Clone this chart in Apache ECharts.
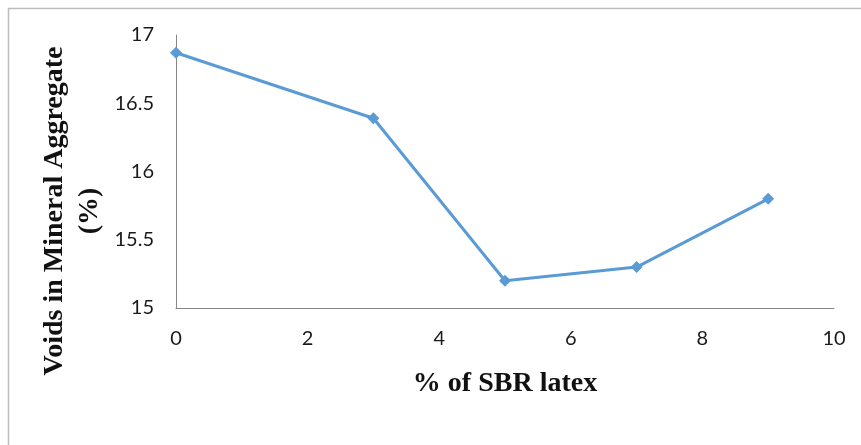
<!DOCTYPE html>
<html>
<head>
<meta charset="utf-8">
<script src="https://cdn.jsdelivr.net/npm/echarts@6/dist/echarts.min.js"></script>
<style>
  html, body { margin: 0; padding: 0; background: #fff; }
  #chart { width: 861px; height: 445px; }
</style>
</head>
<body>
<div id="chart"></div>
<script>
// SBR latex content (%) and measured voids in mineral aggregate (%)
const sbrLatex = [0, 3, 5, 7, 9];
const vmaValues = [16.87, 16.39, 15.2, 15.3, 15.8];

const xTitle = '% of SBR latex';
const yTitle = 'Voids in Mineral Aggregate\n(%)';

const chart = echarts.init(document.getElementById('chart'));

const tickFont = { fontFamily: 'Lato, "Open Sans", sans-serif', fontSize: 20, color: '#1a1a1a' };
const titleFont = '"Liberation Serif", "Times New Roman", serif';
const axisLine = { show: true, lineStyle: { color: '#868686', width: 1 } };

chart.setOption({
  animation: false,
  backgroundColor: '#fff',
  grid: { left: 176, right: 27, top: 35, bottom: 137 },
  xAxis: {
    type: 'value', min: 0, max: 10, interval: 2,
    axisLine: axisLine, axisTick: { show: false }, splitLine: { show: false },
    axisLabel: Object.assign({ margin: 21 }, tickFont),
    name: xTitle, nameLocation: 'middle', nameGap: 62,
    nameTextStyle: { fontFamily: titleFont, fontWeight: 'bold', fontSize: 28, color: '#111' }
  },
  yAxis: {
    type: 'value', min: 15, max: 17, interval: 0.5,
    axisLine: axisLine, axisTick: { show: false }, splitLine: { show: false },
    axisLabel: Object.assign({ margin: 22 }, tickFont)
  },
  graphic: [
    { type: 'line', shape: { x1: 8, y1: 8.5, x2: 861, y2: 8.5 }, style: { stroke: '#bdbdbd', lineWidth: 1.5 } },
    { type: 'line', shape: { x1: 8.5, y1: 8, x2: 8.5, y2: 445 }, style: { stroke: '#bdbdbd', lineWidth: 1.5 } },
    {
      type: 'text', x: 72, y: 211, rotation: Math.PI / 2,
      style: {
        text: yTitle, textAlign: 'center', textVerticalAlign: 'middle',
        fontFamily: titleFont, fontWeight: 'bold', fontSize: 28,
        lineHeight: 35, fill: '#111'
      }
    }
  ],
  series: [{
    type: 'line',
    data: sbrLatex.map((x, i) => [x, vmaValues[i]]),
    symbol: 'diamond', symbolSize: 12,
    lineStyle: { color: '#5B9BD5', width: 3 },
    itemStyle: { color: '#5B9BD5' }
  }]
});
</script>
</body>
</html>
